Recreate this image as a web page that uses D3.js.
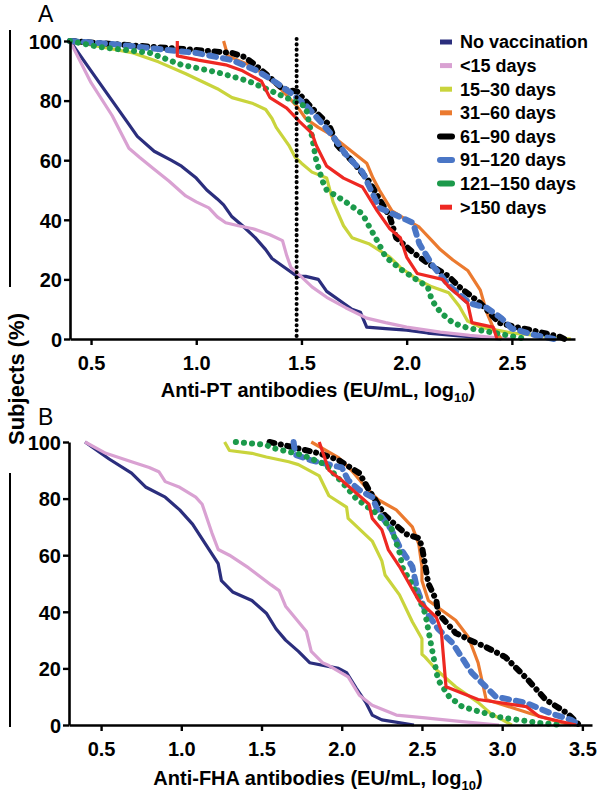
<!DOCTYPE html>
<html><head><meta charset="utf-8">
<script src="https://cdn.jsdelivr.net/npm/d3@7"></script>
<style>
body{margin:0;background:#fff;}
svg{display:block;font-family:"Liberation Sans",Arial,sans-serif;}
</style></head>
<body>
<svg id="chart" width="600" height="794"></svg>
<script>
// ---------- data ----------
const seriesNames = ["No vaccination","<15 days","15–30 days","31–60 days","61–90 days","91–120 days","121–150 days",">150 days"];
const seriesColors = ["#2b2e7d","#d9a1d2","#c9d43c","#eb7a2f","#000000","#4a76c6","#1c9a4b","#ee2822"];
const yTicks = [0,20,40,60,80,100];
const xTicksPT = [0.5,1.0,1.5,2.0,2.5];
const xTicksFHA = [0.5,1.0,1.5,2.0,2.5,3.0,3.5];
const cutoffPT = 1.477;

// Panel A: anti-PT  [log10 EU/mL, % subjects]
const ptNoVacc = [[0.40,100],[0.50,90],[0.60,80],[0.68,72],[0.72,68],[0.80,63],[0.88,60],[0.93,58],[1.00,54],[1.05,50],[1.10,47],[1.13,45],[1.17,41],[1.22,38],[1.28,34],[1.33,30],[1.36,27],[1.42,24],[1.48,21],[1.52,21],[1.58,20],[1.62,16],[1.68,13],[1.74,10],[1.78,9],[1.81,4],[1.90,3.5],[2.00,3],[2.10,2],[2.25,1],[2.45,0]];
const ptLt15 = [[0.40,100],[0.50,86],[0.60,75],[0.68,64],[0.73,61],[0.80,57],[0.87,53],[0.95,48],[1.00,46],[1.06,44],[1.10,41],[1.14,39],[1.20,38],[1.27,37],[1.35,35],[1.41,33],[1.43,28],[1.45,24],[1.49,21.5],[1.55,17.5],[1.62,14],[1.71,10.5],[1.81,7],[1.90,5.5],[2.00,4],[2.16,2.3],[2.30,1.2],[2.50,0]];
const pt15to30 = [[0.40,100],[0.55,98],[0.70,96],[0.82,93],[0.95,89],[1.01,87],[1.10,84],[1.17,81],[1.27,79],[1.33,77],[1.36,74],[1.38,71],[1.41,68],[1.44,65],[1.47,61],[1.50,59],[1.55,56],[1.62,54],[1.65,46],[1.70,38],[1.74,34],[1.82,32],[1.92,27.5],[1.97,24],[2.05,20],[2.12,17.5],[2.20,15.5],[2.25,11],[2.29,6],[2.35,4],[2.50,2],[2.65,1],[2.78,0]];
const pt31to60 = [[1.13,100],[1.15,95],[1.20,93.5],[1.25,92],[1.32,89],[1.40,84],[1.48,78],[1.52,74],[1.58,71],[1.63,69],[1.72,64],[1.81,59],[1.84,54],[1.87,50],[1.93,43],[2.00,40],[2.06,37.5],[2.12,33],[2.16,30],[2.22,26.5],[2.29,23],[2.35,16.4],[2.38,9],[2.41,4],[2.45,0]];
const pt61to90 = [[0.40,100],[0.60,99],[0.80,98],[1.00,97],[1.17,96],[1.23,94.6],[1.27,92.5],[1.33,89],[1.41,84],[1.48,83],[1.53,79],[1.57,76],[1.63,72],[1.67,65],[1.75,59],[1.82,53],[1.87,47],[1.92,41],[1.95,34],[2.03,29],[2.12,24.5],[2.20,21],[2.25,17.5],[2.35,12],[2.44,5.4],[2.52,4],[2.59,3],[2.73,0.7],[2.75,0]];
const pt91to120 = [[0.40,100],[0.60,99],[0.86,97],[1.00,96],[1.17,93.6],[1.29,90],[1.38,86],[1.46,82],[1.52,78.5],[1.59,73],[1.65,68],[1.71,62],[1.79,56],[1.83,50],[1.87,44],[1.95,41.5],[2.03,39],[2.06,32],[2.12,25],[2.20,18],[2.30,12],[2.38,10.5],[2.45,7],[2.50,3.5],[2.60,1.5],[2.70,0]];
const pt121to150 = [[0.40,100],[0.54,98],[0.78,96],[0.93,92],[1.10,89.5],[1.25,86.5],[1.38,82.5],[1.46,80],[1.52,78],[1.55,68],[1.57,60],[1.60,53],[1.62,50],[1.70,46.5],[1.79,42],[1.82,38],[1.86,33],[1.90,27.5],[1.98,23],[2.10,17.5],[2.12,13],[2.16,9],[2.22,5.4],[2.29,3.7],[2.40,2.3],[2.57,0]];
const ptGt150 = [[0.91,100],[0.91,95],[1.01,93.6],[1.14,92],[1.22,90],[1.31,86.5],[1.35,81],[1.43,77.5],[1.49,73],[1.55,69],[1.57,65],[1.62,58],[1.70,54],[1.79,51],[1.86,43],[1.92,37],[1.97,34],[2.00,27.5],[2.05,22],[2.17,20],[2.20,17.5],[2.29,12],[2.31,5.5],[2.41,4],[2.43,0]];

// Panel B: anti-FHA
const fhaNoVacc = [[0.40,100],[0.55,94],[0.69,89],[0.78,84],[0.90,80.5],[0.99,76],[1.07,71],[1.15,64],[1.23,57],[1.25,51],[1.32,47],[1.44,44],[1.53,39.5],[1.59,34],[1.65,30],[1.73,26],[1.80,22],[1.98,20],[2.03,18.5],[2.09,13],[2.15,8],[2.19,3.5],[2.25,1.8],[2.45,0]];
const fhaLt15 = [[0.40,100],[0.53,96],[0.69,93],[0.80,91],[0.86,89.5],[0.90,86],[0.99,84],[1.09,80.5],[1.13,78],[1.19,68],[1.23,62],[1.30,60],[1.42,55.5],[1.56,49.5],[1.61,47.5],[1.65,42],[1.78,33],[1.81,26],[1.88,22],[1.92,21],[2.04,17],[2.11,10.5],[2.19,7],[2.34,3.5],[2.52,2.5],[2.75,1.2],[2.98,0]];
const fha15to30 = [[1.27,100],[1.30,97],[1.44,96],[1.53,94.7],[1.67,93],[1.73,92],[1.86,88],[1.92,81],[2.03,77],[2.04,73],[2.19,65],[2.25,58],[2.27,53],[2.36,46],[2.44,36.5],[2.50,30.5],[2.50,25],[2.52,24],[2.59,19.5],[2.71,13.5],[2.85,8],[2.93,4],[3.06,0]];
const fha31to60 = [[1.81,100],[1.98,94.5],[2.06,90],[2.15,84],[2.23,79.5],[2.34,76],[2.44,70],[2.48,64],[2.50,56],[2.50,51],[2.54,44],[2.71,37],[2.79,31],[2.85,22],[2.90,9],[3.18,4],[3.31,1.8],[3.43,0]];
const fha61to90 = [[1.55,100],[1.67,98.5],[1.86,96],[1.98,93.6],[2.11,89],[2.17,83],[2.21,79.5],[2.27,74],[2.40,67.5],[2.48,66],[2.50,63],[2.54,50],[2.59,44],[2.60,39.5],[2.71,32.5],[2.80,30],[2.90,27.5],[3.02,24],[3.16,16],[3.27,9],[3.41,4],[3.48,0]];
const fha91to120 = [[1.70,100],[1.71,95.5],[1.81,93.5],[2.00,91],[2.04,86.5],[2.11,83],[2.19,80.5],[2.23,75],[2.31,69],[2.36,63],[2.44,56],[2.47,48],[2.52,40.5],[2.60,34],[2.69,29],[2.81,18.5],[2.96,10],[3.15,7.8],[3.31,4],[3.43,1.8],[3.48,0]];
const fha121to150 = [[1.34,100],[1.53,99],[1.56,98],[1.75,95.5],[1.90,92],[2.03,84],[2.09,80],[2.21,75],[2.31,69.5],[2.36,61],[2.38,55.5],[2.44,49.5],[2.48,45],[2.52,39.5],[2.56,27.5],[2.60,16],[2.67,10],[2.75,6.5],[2.98,2.8],[3.23,0.7],[3.37,0]];
const fhaGt150 = [[1.86,100],[1.92,90],[2.00,86.5],[2.09,82],[2.17,78],[2.19,73],[2.25,69],[2.29,62],[2.36,56],[2.42,50],[2.48,44],[2.59,38],[2.62,33.5],[2.65,13.5],[2.85,9],[3.15,6.5],[3.23,3],[3.46,0]];

const ptSeries = [ptNoVacc,ptLt15,pt15to30,pt31to60,pt61to90,pt91to120,pt121to150,ptGt150];
const fhaSeries = [fhaNoVacc,fhaLt15,fha15to30,fha31to60,fha61to90,fha91to120,fha121to150,fhaGt150];

// ---------- styles ----------
const styleFor = i => {
  if (i === 4) return {w:6, dash:"5,6.5,0.1,6.5", cap:"round"};
  if (i === 5) return {w:6, dash:"7,7", cap:"round"};
  if (i === 6) return {w:6, dash:"0.1,8", cap:"round"};
  return {w:3.2, dash:null, cap:"butt"};
};

const svg = d3.select("#chart");

function panel(cfg) {
  const x = d3.scaleLinear().domain(cfg.xDomain).range(cfg.xRange);
  const y = d3.scaleLinear().domain([0,100]).range(cfg.yRange);
  const g = svg.append("g");

  const line = d3.line().x(d => x(d[0])).y(d => y(d[1]));
  cfg.series.forEach((s,i) => {
    const st = styleFor(i);
    g.append("path").datum(s).attr("d", line)
      .attr("fill","none").attr("stroke",seriesColors[i])
      .attr("stroke-width",st.w).attr("stroke-linejoin","round")
      .attr("stroke-linecap",st.cap)
      .attr("stroke-dasharray",st.dash);
  });

  const ya = g.append("g").attr("transform",`translate(${cfg.xRange[0]},0)`)
    .call(d3.axisLeft(y).tickValues(yTicks).tickFormat(d3.format("d")).tickSize(6).tickPadding(2).tickSizeOuter(0));
  const xa = g.append("g").attr("transform",`translate(0,${cfg.yRange[0]})`)
    .call(d3.axisBottom(x).tickValues(cfg.xTicks).tickFormat(d3.format(".1f")).tickSize(6).tickPadding(6).tickSizeOuter(0));
  [ya,xa].forEach(a => {
    a.selectAll("path.domain").attr("stroke","#000").attr("stroke-width",2.6);
    a.selectAll(".tick line").attr("stroke","#000").attr("stroke-width",2.4);
    a.selectAll(".tick text").attr("fill","#000").attr("font-size",20).attr("font-weight","bold")
      .attr("font-family","'Liberation Sans',Arial,sans-serif");
  });
  xa.selectAll(".tick text").attr("dy","0.95em");
  ya.selectAll(".tick text").attr("dy","0.36em");

  const t = g.append("text").attr("x",cfg.titleX).attr("y",cfg.titleY)
    .attr("text-anchor","middle").attr("font-size",20).attr("font-weight","bold").attr("fill","#000");
  t.append("tspan").text(cfg.title);
  t.append("tspan").attr("font-size",13).attr("dy",5).text("10");
  t.append("tspan").attr("dy",-5).text(")");

  g.append("text").attr("x",38).attr("y",cfg.letterY).attr("font-size",23)
    .attr("fill","#000").text(cfg.letter);
  return {x,y,g};
}

const A = panel({
  series: ptSeries, xDomain:[0.4,2.8], xRange:[70,575], yRange:[339,41],
  xTicks: xTicksPT, title:"Anti-PT antibodies (EU/mL, log", titleX:318, titleY:397,
  letter:"A", letterY:22
});
A.g.append("line").attr("x1",A.x(cutoffPT)).attr("x2",A.x(cutoffPT))
  .attr("y1",A.y(100)-2).attr("y2",A.y(0))
  .attr("stroke","#000").attr("stroke-width",4).attr("stroke-dasharray","0.1,5.2").attr("stroke-linecap","round");

const B = panel({
  series: fhaSeries, xDomain:[0.3,3.56], xRange:[69,592], yRange:[725,442],
  xTicks: xTicksFHA, title:"Anti-FHA antibodies (EU/mL, log", titleX:318, titleY:785,
  letter:"B", letterY:425
});

// legend
const lg = svg.append("g");
seriesNames.forEach((n,i) => {
  const yy = 42 + i*23.6;
  lg.append("line").attr("x1",440).attr("x2",452).attr("y1",yy).attr("y2",yy)
    .attr("stroke",seriesColors[i]).attr("stroke-width", i>=4&&i<=6 ? 6 : 5)
    .attr("stroke-linecap", i>=4&&i<=6 ? "round" : "butt");
  lg.append("text").attr("x",460).attr("y",yy).attr("dy","0.36em")
    .attr("font-size",18).attr("font-weight","bold").attr("fill","#000").text(n);
});

// shared y title and bracket lines
svg.append("text").attr("transform","translate(24,379) rotate(-90)")
  .attr("text-anchor","middle").attr("font-size",22).attr("font-weight","bold").attr("fill","#000")
  .text("Subjects (%)");
svg.append("line").attr("x1",10).attr("x2",10).attr("y1",30).attr("y2",287).attr("stroke","#000").attr("stroke-width",2);
svg.append("line").attr("x1",10).attr("x2",10).attr("y1",473).attr("y2",727).attr("stroke","#000").attr("stroke-width",2);
</script>
</body></html>
